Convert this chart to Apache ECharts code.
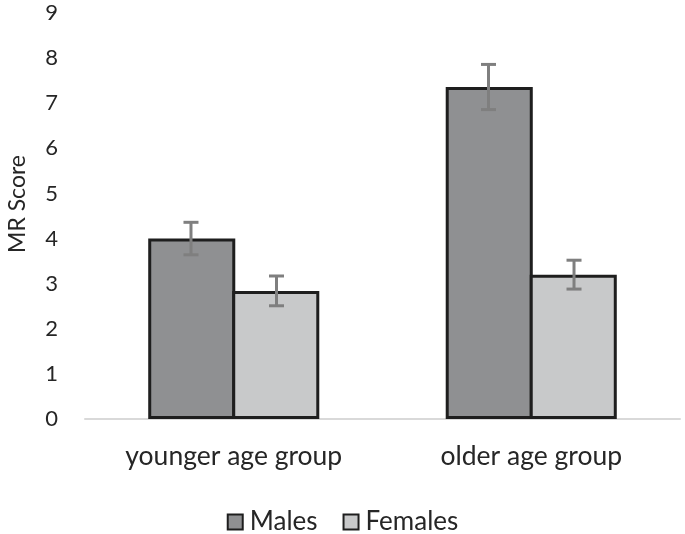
<!DOCTYPE html>
<html>
<head>
<meta charset="utf-8">
<script src="https://cdn.jsdelivr.net/npm/echarts@6/dist/echarts.min.js"></script>
<style>html,body{margin:0;padding:0;background:#fff;}#c{width:685px;height:534px;}</style>
</head>
<body>
<div id="c"></div>
<script>
const categories = ['younger age group', 'older age group'];
const seriesNames = ['Males', 'Females'];
const malesValues = [4.0, 7.36];
const femalesValues = [2.84, 3.2];
const malesErr = [0.36, 0.5];
const femalesErr = [0.33, 0.32];
const yTicks = [0, 1, 2, 3, 4, 5, 6, 7, 8, 9];

const FONT = 'Lato, "Open Sans", sans-serif';
const BAR_FRAC = 0.575; // fraction of band occupied by bar group
const TEXT = '#262626';

function errSeries(name, values, errs, idx) {
  const data = values.map((v, i) => [i, v - errs[i], v + errs[i]]);
  return {
    type: 'custom',
    name: name + ' err',
    z: 10,
    silent: true,
    renderItem: function (params, api) {
      const band = api.size([1, 0])[0];
      const barW = band * BAR_FRAC / 2;
      const off = (idx === 0 ? -0.5 : 0.5) * barW;
      const lo = api.coord([api.value(0), api.value(1)]);
      const hi = api.coord([api.value(0), api.value(2)]);
      const x = lo[0] + off;
      const cap = 7.5;
      const style = { stroke: '#7f7f7f', lineWidth: 3 };
      return {
        type: 'group',
        children: [
          { type: 'line', shape: { x1: x, y1: lo[1], x2: x, y2: hi[1] }, style: style },
          { type: 'line', shape: { x1: x - cap, y1: hi[1], x2: x + cap, y2: hi[1] }, style: style },
          { type: 'line', shape: { x1: x - cap, y1: lo[1], x2: x + cap, y2: lo[1] }, style: style }
        ]
      };
    },
    data: data
  };
}

const chart = echarts.init(document.getElementById('c'), null, { renderer: 'canvas' });
chart.setOption({
  animation: false,
  backgroundColor: '#fff',
  grid: { left: 85, right: 5, top: 13, bottom: 115, containLabel: false, outerBoundsMode: 'none' },
  legend: {
    data: seriesNames,
    top: 504,
    left: 'center',
    itemWidth: 15,
    itemHeight: 15,
    itemGap: 25,
    icon: 'rect',
    textStyle: { fontFamily: FONT, fontSize: 26, color: TEXT, padding: [0, 0, 0, 2] }
  },
  xAxis: {
    type: 'category',
    data: categories,
    axisLine: { show: true, lineStyle: { color: '#d9d9d9', width: 2 } },
    axisTick: { show: false },
    axisLabel: { fontFamily: FONT, fontSize: 26.5, color: TEXT, margin: 24 }
  },
  yAxis: {
    type: 'value',
    min: 0,
    max: 9,
    interval: 1,
    name: 'MR Score',
    nameLocation: 'middle',
    nameGap: 56,
    nameTextStyle: { fontFamily: FONT, fontSize: 23, color: TEXT, padding: [0, 0, 0, 24] },
    axisLine: { show: false },
    axisTick: { show: false },
    splitLine: { show: false },
    axisLabel: {
      fontFamily: FONT, fontSize: 22, color: TEXT, margin: 27,
      formatter: function (v) { return yTicks.indexOf(v) >= 0 ? String(v) : ''; }
    }
  },
  series: [
    {
      name: seriesNames[0], type: 'bar', data: malesValues,
      barGap: '-3.5%', barCategoryGap: ((1 - BAR_FRAC) * 100) + '%',
      itemStyle: { color: '#8f9092', borderColor: '#1e1e1e', borderWidth: 3 }
    },
    {
      name: seriesNames[1], type: 'bar', data: femalesValues,
      barGap: '-3.5%', barCategoryGap: ((1 - BAR_FRAC) * 100) + '%',
      itemStyle: { color: '#c8c9ca', borderColor: '#1e1e1e', borderWidth: 3 }
    },
    errSeries(seriesNames[0], malesValues, malesErr, 0),
    errSeries(seriesNames[1], femalesValues, femalesErr, 1)
  ]
});
</script>
</body>
</html>
